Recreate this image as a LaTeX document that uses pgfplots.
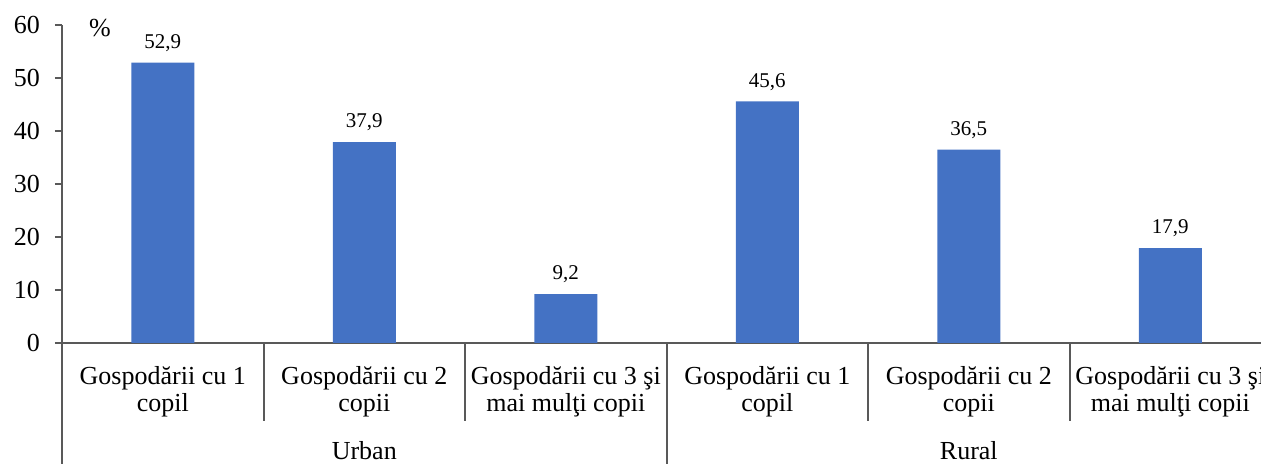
\documentclass[border=0pt]{standalone}
\usepackage{pgfplots}
\pgfplotsset{compat=1.18}
\usepackage{fontspec}
\setmainfont{Liberation Serif}
\definecolor{barblue}{HTML}{4472C4}
\definecolor{axgray}{HTML}{595959}
\begin{document}
\begin{tikzpicture}
\clip (-31pt,-60.5pt) rectangle (599.5pt,171.5pt);
\begin{axis}[
  scale only axis, width=599.5pt, height=159pt,
  xmin=-0.5, xmax=5.45, ymin=0, ymax=60,
  axis x line*=bottom, axis y line*=left,
  axis line style={axgray, line width=1pt},
  ytick={0,10,...,60}, tick align=outside, major tick length=3.5pt,
  y tick style={axgray, line width=1pt},
  xtick={0,...,5}, x tick style={draw=none}, xtick align=inside,
  xticklabels={Gospodării cu 1\\copil, Gospodării cu 2\\copii, Gospodării cu 3 şi\\mai mulţi copii,
               Gospodării cu 1\\copil, Gospodării cu 2\\copii, Gospodării cu 3 şi\\mai mulţi copii},
  xticklabel style={align=center, font=\fontsize{13}{13.5}\selectfont, yshift=-4.5pt},
  yticklabel style={font=\fontsize{13}{15}\selectfont, xshift=-4pt},
  /pgf/number format/assume math mode=true,
  ybar, bar width=31.5pt,
  nodes near coords,
  every node near coord/.append style={font=\fontsize{10.5}{12}\selectfont, black, yshift=2pt,
    /pgf/number format/.cd, use comma, fixed, fixed zerofill, precision=1},
  clip=false,
]
\addplot[fill=barblue, draw=none] coordinates {(0,52.9) (1,37.9) (2,9.2) (3,45.6) (4,36.5) (5,17.9)};
\foreach \s in {0.5,1.5,3.5,4.5} {
  \edef\tmp{\noexpand\draw[axgray, line width=1pt] (axis cs:\s,0) -- ++(0pt,-39pt);}\tmp
}
\draw[axgray, line width=1pt] (axis cs:-0.5,0) -- ++(0pt,-62pt);
\draw[axgray, line width=1pt] (axis cs:2.5,0) -- ++(0pt,-62pt);
\node[font=\fontsize{13}{15}\selectfont, anchor=base] at ([yshift=-58pt]axis cs:1,0) {Urban};
\node[font=\fontsize{13}{15}\selectfont, anchor=base] at ([yshift=-58pt]axis cs:4,0) {Rural};
\node[font=\fontsize{13}{15}\selectfont] at ([xshift=19pt,yshift=-1.5pt]rel axis cs:0,1) {\%};
\end{axis}
\end{tikzpicture}
\end{document}
